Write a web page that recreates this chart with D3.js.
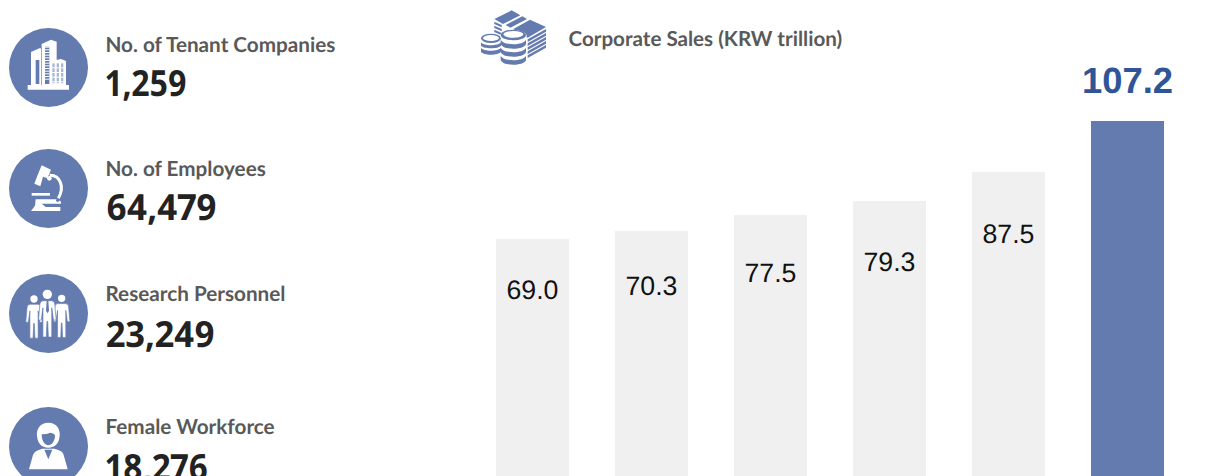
<!DOCTYPE html>
<html>
<head>
<meta charset="utf-8">
<title>Corporate Sales</title>
<script src="https://cdn.jsdelivr.net/npm/d3@7"></script>
<style>
  html, body { margin: 0; padding: 0; background: #fff; overflow: hidden; }
  svg { display: block; }
  text { text-rendering: geometricPrecision; }
</style>
</head>
<body>
<div id="chart"></div>
<script>
// left column figures
const statLabels = ['No. of Tenant Companies', 'No. of Employees', 'Research Personnel', 'Female Workforce'];
const statValues = ['1,259', '64,479', '23,249', '18,276'];

// bar chart, one entry per bar (the x axis is cut off in the picture)
const barIds = ['b1', 'b2', 'b3', 'b4', 'b5', 'b6'];
const salesValues = [69.0, 70.3, 77.5, 79.3, 87.5, 107.2];
// the source bars are not to scale with their labels, so drawn height is read
// off the picture separately, as a percent of the tallest bar
const barLevels = [68.9, 71.0, 75.2, 78.9, 86.5, 100];

const width = 1208;
const height = 476;
const blue = '#647bb0';
const grey = '#f0f0f0';
const labelFont = 'Lato, sans-serif';

const svg = d3.select('#chart').append('svg')
  .attr('width', width)
  .attr('height', height);

// ---- bars ----
const x = d3.scaleBand()
  .domain(barIds)
  .range([496, 1164])
  .paddingInner(46 / 119)
  .paddingOuter(0);

const y = d3.scaleLinear()
  .domain([0, 100])
  .range([500, 121]);

svg.selectAll('rect.bar')
  .data(barIds)
  .enter()
  .append('rect')
  .attr('class', 'bar')
  .attr('x', (d) => x(d))
  .attr('y', (d, i) => Math.round(y(barLevels[i])))
  .attr('width', x.bandwidth())
  .attr('height', (d, i) => y(0) - Math.round(y(barLevels[i])))
  .style('fill', (d, i) => (i === barIds.length - 1 ? blue : grey));

// label drop below the bar top, the source placed these by hand
const labelDrop = [60, 63.5, 67, 70, 71, -28];

svg.selectAll('text.bar-label')
  .data(salesValues)
  .enter()
  .append('text')
  .attr('class', 'bar-label')
  .attr('x', (d, i) => x(barIds[i]) + x.bandwidth() / 2)
  .attr('y', (d, i) => Math.round(y(barLevels[i])) + labelDrop[i])
  .attr('text-anchor', 'middle')
  .style('font-family', '"Liberation Sans", Arial, sans-serif')
  .style('font-size', (d, i) => (i === salesValues.length - 1 ? '36.4px' : '26.7px'))
  .style('font-weight', (d, i) => (i === salesValues.length - 1 ? 700 : 400))
  .style('fill', (d, i) => (i === salesValues.length - 1 ? '#2f5597' : '#111'))
  .text((d) => d.toFixed(1));

// chart title
svg.append('text')
  .attr('x', 568.5)
  .attr('y', 46)
  .style('font-family', labelFont)
  .style('font-size', '20.6px')
  .style('font-weight', 700)
  .style('fill', '#595959')
  .text('Corporate Sales (KRW trillion)');

// ---- left column ----
const circleY = [67.5, 188.5, 313.5, 446.5];
const labelY = [52, 176, 301, 434];
const valueY = [96, 220, 347, 480];
const valueWidth = [81, 111, 109, 102]; // source font has a narrower 1

svg.selectAll('circle.stat')
  .data(statLabels)
  .enter()
  .append('circle')
  .attr('class', 'stat')
  .attr('cx', 48.5)
  .attr('cy', (d, i) => circleY[i])
  .attr('r', 39.5)
  .style('fill', blue);

svg.selectAll('text.stat-label')
  .data(statLabels)
  .enter()
  .append('text')
  .attr('class', 'stat-label')
  .attr('x', 105.5)
  .attr('y', (d, i) => labelY[i])
  .style('font-family', labelFont)
  .style('font-size', '20.7px')
  .style('font-weight', 700)
  .style('fill', '#595959')
  .text((d) => d);

svg.selectAll('text.stat-value')
  .data(statValues)
  .enter()
  .append('text')
  .attr('class', 'stat-value')
  .attr('x', 106)
  .attr('y', (d, i) => valueY[i])
  .attr('textLength', (d, i) => valueWidth[i])
  .attr('lengthAdjust', 'spacingAndGlyphs')
  .style('font-family', '"Noto Sans", sans-serif')
  .style('font-size', '36px')
  .style('font-weight', 700)
  .style('font-variant-numeric', 'proportional-nums')
  .style('fill', '#222')
  .text((d) => d);

// ---- icons, drawn at 3x so numbers line up with zoomed crops ----
function iconGroup(ox, oy) {
  return svg.append('g').attr('transform', `translate(${ox}, ${oy}) scale(${1 / 3})`);
}

function addPath(parent, d, fill) {
  return parent.append('path').attr('d', d).style('fill', fill || '#fff');
}

function buildingIcon(ox, oy) {
  const g = iconGroup(ox, oy);
  addPath(g, 'M68 183H192V197H68Z');
  addPath(g, 'M78 84L105 72L108 74V183H78Z');
  addPath(g, 'M110 60L138 47L155 53V183H110Z');
  addPath(g, 'M137 112L168 105L183 111V183H137Z');
  // window strips
  addPath(g, 'M92 108H103V180H92Z', blue);
  addPath(g, 'M120 68H133V180H120Z', blue);
  d3.range(8, 112, 8).forEach((k) => {
    g.append('rect').attr('x', 120).attr('y', 60 + k).attr('width', 13).attr('height', 3).style('fill', '#fff');
  });
  d3.range(3).forEach((i) => {
    g.append('rect').attr('x', 142 + i * 13).attr('y', 118).attr('width', 7).attr('height', 60).style('fill', blue).style('opacity', 0.55);
  });
  d3.range(4).forEach((i) => {
    g.append('rect').attr('x', 138).attr('y', 130 + i * 14).attr('width', 44).attr('height', 3).style('fill', '#fff');
  });
}

function microscopeIcon(ox, oy) {
  const g = iconGroup(ox, oy);
  addPath(g, 'M110 61L138 74L127 100L114 95L106 124L88 116L97 92Z');
  g.append('path')
    .attr('d', 'M134 91C165 90 180 125 160 160')
    .style('fill', 'none')
    .style('stroke', '#fff')
    .style('stroke-width', 9);
  g.append('circle').attr('cx', 133).attr('cy', 100).attr('r', 7).style('fill', '#fff');
  addPath(g, 'M80 144H135V152H80Z');
  addPath(g, 'M92 163H158L168 170V176H110L122 186H166V198H78L90 182Z');
  g.append('circle').attr('cx', 158).attr('cy', 166).attr('r', 5).style('fill', blue);
}

function person(g, cx, headY, headR, scale) {
  g.append('circle').attr('cx', cx).attr('cy', headY).attr('r', headR).style('fill', '#fff');
  const body = `M${-22} ${16}Q${-22} ${6} ${-12} ${5}H${12}Q${22} ${6} ${22} ${16}L${26} ${62}H${18}L${13} ${26}V${112}H${3}L${1} ${66}L${-1} ${66}L${-3} ${112}H${-13}V${26}L${-18} ${62}H${-26}Z`;
  g.append('path')
    .attr('transform', `translate(${cx}, ${headY + headR}) scale(${scale})`)
    .attr('d', body)
    .style('fill', '#fff')
    .style('stroke', blue)
    .style('stroke-width', 2);
}

function peopleIcon(ox, oy) {
  const g = iconGroup(ox, oy);
  person(g, 87, 87, 11, 0.95);
  person(g, 170, 85, 11, 0.95);
  person(g, 127, 73, 14, 1.02);
  addPath(g, 'M125 91H130L132 122L127.5 130L123 122Z', blue);
}

function womanIcon(ox, oy) {
  const g = iconGroup(ox, oy);
  addPath(g, 'M72 208L84 165Q88 152 112 146L148 146Q174 152 176 165L188 208Z');
  addPath(g, 'M130 68C156 68 166 88 164 108C162 130 150 143 130 143C110 143 98 130 96 108C94 88 104 68 130 68Z');
  addPath(g, 'M110 103Q125 103 136 98Q148 100 150 106C150 124 140 136 130 136C120 136 110 124 110 103Z', blue);
  addPath(g, 'M118 149H142L130 178Z', blue);
}

function moneyIcon(ox, oy) {
  const g = iconGroup(ox, oy);
  // bill stacks, isometric tops with stripes down the sides
  addPath(g, 'M58 42L110 16L136 31L84 57Z', blue);
  addPath(g, 'M92 60L142 34L156 42L106 68Z', blue);
  addPath(g, 'M115 72L165 44L213 66L158 98Z', blue);
  d3.range(3).forEach((i) => {
    addPath(g, `M58 ${50 + i * 12}L80 ${60 + i * 12}V${67 + i * 12}L58 ${57 + i * 12}Z`, blue);
  });
  d3.range(5).forEach((i) => {
    addPath(g, `M158 ${103 + i * 12}L213 ${72 + i * 12}V${80 + i * 12}L158 ${111 + i * 12}Z`, blue);
  });
  // left coin pile
  g.append('ellipse').attr('cx', 48).attr('cy', 100).attr('rx', 30).attr('ry', 14).style('fill', blue);
  g.append('ellipse').attr('cx', 48).attr('cy', 99).attr('rx', 24).attr('ry', 9).style('fill', '#fff');
  addPath(g, 'M18 112C25 124 70 124 78 112V122C70 132 25 132 18 122Z', blue);
  addPath(g, 'M18 128C25 140 70 140 78 128V140C70 152 25 152 18 140Z', blue);
  // front coin stack
  g.append('ellipse').attr('cx', 115).attr('cy', 92).attr('rx', 40).attr('ry', 17).style('fill', '#fff');
  g.append('ellipse').attr('cx', 115).attr('cy', 90).attr('rx', 38).attr('ry', 16).style('fill', blue);
  g.append('ellipse').attr('cx', 115).attr('cy', 88).attr('rx', 30).attr('ry', 10).style('fill', '#fff');
  d3.range(3).forEach((i) => {
    const t = 104 + i * 24;
    addPath(g, `M77 ${t}C85 ${t + 18} 145 ${t + 18} 153 ${t}V${t + 14}C145 ${t + 32} 85 ${t + 32} 77 ${t + 14}Z`, blue);
  });
}

buildingIcon(5, 24);
microscopeIcon(5, 145);
peopleIcon(5, 270);
womanIcon(5, 400);
moneyIcon(475, 5);
</script>
</body>
</html>
